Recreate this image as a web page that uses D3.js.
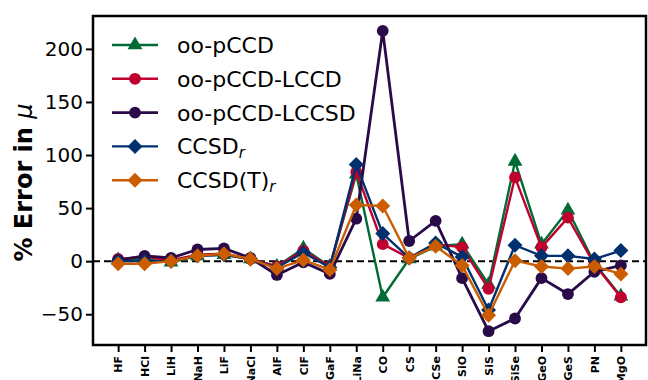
<!DOCTYPE html>
<html>
<head>
<meta charset="utf-8">
<script src="https://cdn.jsdelivr.net/npm/d3@7"></script>
<style>
    html, body { margin: 0; padding: 0; background: #fff; }
    svg { display: block; font-family: 'DejaVu Sans', sans-serif; }
</style>
</head>
<body>
<svg id="chart" width="648" height="380"></svg>
<script>

var molecules = ['HF', 'HCl', 'LiH', 'NaH', 'LiF', 'NaCl', 'AlF', 'ClF', 'GaF', 'LiNa',
    'CO', 'CS', 'CSe', 'SiO', 'SiS', 'SiSe', 'GeO', 'GeS', 'PN', 'MgO'];

var ooPCCD = [1, 2, -1, 5, 6, 2, -5, 12, -5, 82, -34, 2, 14, 16, -22, 94, 16, 48, -2, -33];
var ooPCCDLCCD = [2, 4, 1, 6, 7, 2, -5, 10, -5, 84, 16, 3, 16, 13, -26, 79, 13, 41, -3, -34];
var ooPCCDLCCSD = [1, 5, 3, 11, 12, 3, -13, -1, -12, 40, 217, 19, 38, -16, -66, -54, -16, -31, -10, -4];
var ccsdR = [0, 0, 0, 5, 6, 2, -6, 8, -6, 91, 26, 3, 17, 4, -46, 15, 5, 5, 2, 10];
var ccsdTR = [-2.5, -2.5, 0, 5, 7, 2, -7, 1, -8, 53, 52, 3, 14, -4, -51, 0.5, -5, -7, -5, -12];

var yTicks = [-50, 0, 50, 100, 150, 200];

(function () {

    var svg = d3.select('#chart'),
        left = 93, right = 646, top = 16, bottom = 345;

    var x = d3.scaleLinear()
        .domain([-0.95, molecules.length - 1 + 0.95])
        .range([left, right]);

    var y = d3.scaleLinear()
        .domain([-79, 231])
        .range([bottom, top]);

    var series = [
        { name: 'oo-pCCD', values: ooPCCD, color: '#006b35', marker: 'triangle', width: 2.4 },
        { name: 'oo-pCCD-LCCD', values: ooPCCDLCCD, color: '#c0002e', marker: 'circle', width: 2.4 },
        { name: 'oo-pCCD-LCCSD', values: ooPCCDLCCSD, color: '#2a0b4a', marker: 'circle', width: 2.8 },
        { name: 'CCSD', sub: 'r', values: ccsdR, color: '#00306e', marker: 'diamond', width: 2.4 },
        { name: 'CCSD(T)', sub: 'r', values: ccsdTR, color: '#cc5c00', marker: 'diamond', width: 2.4 }
    ];

    var symbolFor = function (m) {

        if (m === 'triangle')
            return d3.symbol().type(d3.symbolTriangle).size(95)();
        if (m === 'diamond')
            return 'M0,-7.5L7.5,0L0,7.5L-7.5,0Z';
        return d3.symbol().type(d3.symbolCircle).size(110)();

    };

    // zero line
    svg.append('line')
        .attr('x1', left)
        .attr('x2', right)
        .attr('y1', y(0))
        .attr('y2', y(0))
        .attr('stroke', '#000')
        .attr('stroke-width', 2)
        .attr('stroke-dasharray', '7,4');

    var line = d3.line()
        .x(function (d, i) { return x(i); })
        .y(function (d) { return y(d); });

    series.forEach(function (s) {

        var g = svg.append('g');

        g.append('path')
            .attr('d', line(s.values))
            .attr('fill', 'none')
            .attr('stroke', s.color)
            .attr('stroke-width', s.width)
            .attr('stroke-linejoin', 'round');

        g.selectAll('.pt')
            .data(s.values)
            .enter().append('path')
            .attr('class', 'pt')
            .attr('transform', function (d, i) {

                return 'translate(' + x(i) + ',' + y(d) + ')';

            })
            .attr('d', symbolFor(s.marker))
            .attr('fill', s.color);

    });

    // axes
    var yAxis = d3.axisLeft(y)
        .tickValues(yTicks)
        .tickSize(7)
        .tickPadding(3)
        .tickFormat(function (d) { return d < 0 ? '\u2212' + Math.abs(d) : d; });

    var gy = svg.append('g')
        .attr('transform', 'translate(' + left + ',0)')
        .call(yAxis);

    gy.select('.domain').remove();
    gy.selectAll('line').attr('stroke-width', 2);
    gy.selectAll('text')
        .attr('font-size', 20)
        .attr('font-family', 'DejaVu Sans')
        .attr('fill', '#000');

    var xAxis = d3.axisBottom(x)
        .tickValues(d3.range(molecules.length))
        .tickSize(7)
        .tickFormat(function (i) { return molecules[i]; });

    var gx = svg.append('g')
        .attr('transform', 'translate(0,' + bottom + ')')
        .call(xAxis);

    gx.select('.domain').remove();
    gx.selectAll('line').attr('stroke-width', 2);
    gx.selectAll('text')
        .attr('font-size', 11)
        .attr('font-weight', 'bold')
        .attr('font-family', 'DejaVu Sans')
        .attr('fill', '#000')
        .attr('transform', 'rotate(-90)')
        .attr('x', -11)
        .attr('y', 0)
        .attr('dy', '0.35em')
        .style('text-anchor', 'end');

    // frame
    svg.append('rect')
        .attr('x', left)
        .attr('y', top)
        .attr('width', right - left)
        .attr('height', bottom - top)
        .attr('fill', 'none')
        .attr('stroke', '#000')
        .attr('stroke-width', 2.5);

    // y label
    var ylab = svg.append('text')
        .attr('transform', 'translate(32,' + ((top + bottom) / 2 + 2) + ') rotate(-90)')
        .attr('text-anchor', 'middle')
        .attr('font-size', 24)
        .attr('fill', '#000');

    ylab.append('tspan')
        .attr('font-weight', 'bold')
        .text('% Error in ');

    ylab.append('tspan')
        .attr('font-style', 'italic')
        .text('\u03bc');

    // legend
    var legend = svg.selectAll('.legend')
        .data(series)
        .enter().append('g')
        .attr('class', 'legend')
        .attr('transform', function (d, i) {

            return 'translate(112,' + (45 + i * 33.8) + ')';

        });

    legend.append('line')
        .attr('x1', 0)
        .attr('x2', 46)
        .attr('stroke', function (d) { return d.color; })
        .attr('stroke-width', function (d) { return d.width; });

    legend.append('path')
        .attr('transform', 'translate(23,0)')
        .attr('d', function (d) { return symbolFor(d.marker); })
        .attr('fill', function (d) { return d.color; });

    var lt = legend.append('text')
        .attr('x', 65)
        .attr('y', 8)
        .attr('font-size', 22)
        .attr('fill', '#000');

    lt.append('tspan')
        .text(function (d) { return d.name; });

    lt.filter(function (d) { return d.sub; })
        .append('tspan')
        .attr('font-style', 'italic')
        .attr('font-size', 15)
        .attr('dy', 4)
        .text(function (d) { return d.sub; });

})();

</script>
</body>
</html>
